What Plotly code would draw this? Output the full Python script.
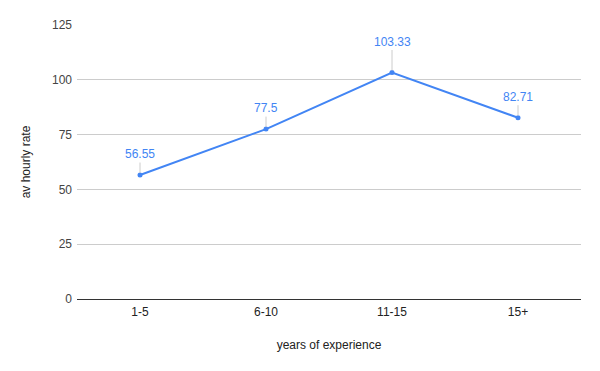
import plotly.graph_objects as go

categories = ["1-5", "6-10", "11-15", "15+"]
rates = [56.55, 77.5, 103.33, 82.71]
labels = ["56.55", "77.5", "103.33", "82.71"]
label_offsets = [-21, -21, -31, -21]

BLUE = "#4285F4"
FONT = "Liberation Sans, Arial, sans-serif"

fig = go.Figure()
fig.add_trace(go.Scatter(
    x=categories, y=rates, mode="lines+markers",
    line=dict(color=BLUE, width=2),
    marker=dict(color=BLUE, size=5),
    hoverinfo="skip", showlegend=False,
))

for c, v, t, off in zip(categories, rates, labels, label_offsets):
    fig.add_annotation(
        x=c, y=v, text=t, showarrow=True, arrowhead=0, arrowwidth=1,
        arrowcolor="#cccccc", ax=0, ay=off, standoff=2,
        font=dict(family=FONT, size=12, color=BLUE),
    )

fig.update_layout(
    width=584, height=355,
    margin=dict(l=69, r=11, t=17, b=64),
    paper_bgcolor="white", plot_bgcolor="white",
    font=dict(family=FONT, size=12, color="#444444"),
    xaxis=dict(
        type="category", range=[-0.5, 3.5], automargin=False,
        showgrid=False, showline=False, ticks="", ticklabelstandoff=4,
        title=dict(text="years of experience", font=dict(size=12, color="#222222"), standoff=22),
        tickfont=dict(size=12, color="#222222"),
    ),
    yaxis=dict(
        range=[0, 125], tickvals=[0, 25, 50, 75, 100, 125], automargin=False,
        showgrid=True, gridcolor="#cccccc", gridwidth=1,
        zeroline=True, zerolinecolor="#333333", zerolinewidth=1,
        showline=False, ticks="", ticklabelstandoff=4,
        title=dict(text="av hourly rate", font=dict(size=12, color="#222222"), standoff=18),
        tickfont=dict(size=12, color="#444444"),
    ),
)

fig.write_html("out.html")
